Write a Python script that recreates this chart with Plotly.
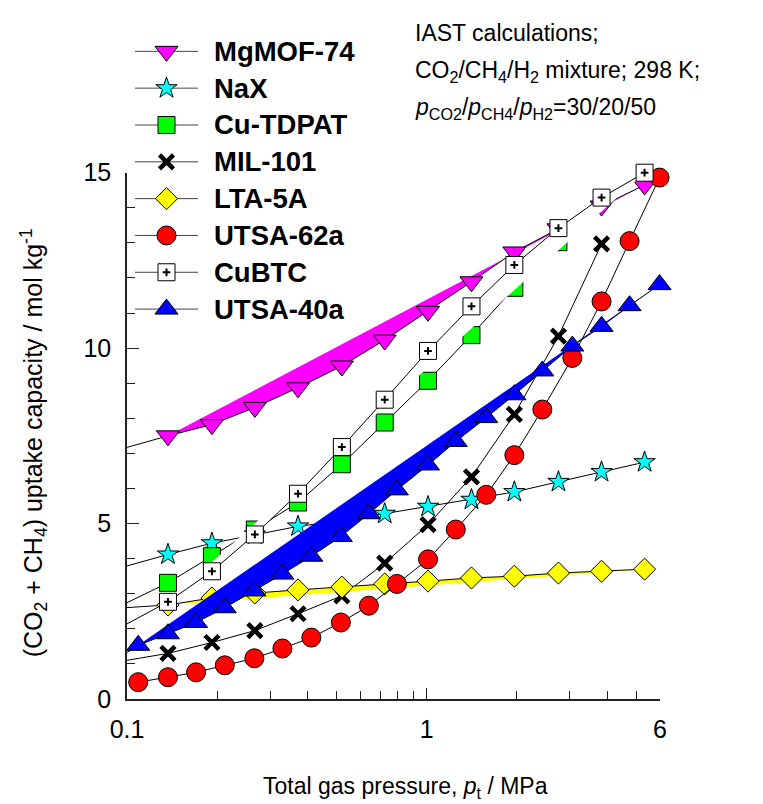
import math
import plotly.graph_objects as go

# ---- data: total pressure (MPa) and CO2+CH4 uptake (mol/kg) ----
mgmof_x = [0.098, 0.137, 0.192, 0.267, 0.372, 0.521, 0.724, 1.01, 1.41, 1.96, 2.75, 3.83, 5.33]
mgmof_y = [7.15, 7.50, 7.82, 8.31, 8.87, 9.49, 10.23, 11.05, 11.89, 12.74, 13.40, 14.05, 14.65]

nax_x = [0.098, 0.137, 0.192, 0.267, 0.372, 0.521, 0.724, 1.01, 1.41, 1.96, 2.75, 3.83, 5.33]
nax_y = [3.77, 4.12, 4.44, 4.69, 4.92, 5.08, 5.28, 5.48, 5.68, 5.90, 6.19, 6.47, 6.75]

cutdpat_x = [0.098, 0.137, 0.192, 0.267, 0.372, 0.521, 0.724, 1.01, 1.41, 1.96, 2.75]
cutdpat_y = [2.71, 3.31, 4.07, 4.83, 5.60, 6.69, 7.88, 9.07, 10.37, 11.72, 13.02]

mil101_x = [0.098, 0.137, 0.192, 0.267, 0.372, 0.521, 0.724, 1.01, 1.41, 1.96, 2.75, 3.83]
mil101_y = [1.09, 1.30, 1.61, 1.95, 2.43, 2.94, 3.87, 4.97, 6.33, 8.11, 10.34, 12.97]

lta5a_x = [0.098, 0.137, 0.192, 0.267, 0.372, 0.521, 0.724, 1.01, 1.41, 1.96, 2.75, 3.83, 5.33]
lta5a_y = [2.60, 2.68, 2.88, 3.02, 3.11, 3.19, 3.28, 3.36, 3.45, 3.50, 3.59, 3.64, 3.70]

utsa62_x = [0.109, 0.137, 0.170, 0.212, 0.266, 0.330, 0.412, 0.517, 0.641, 0.795,
            1.01, 1.25, 1.58, 1.96, 2.43, 3.06, 3.83, 4.75, 5.98]
utsa62_y = [0.48, 0.62, 0.76, 0.96, 1.16, 1.44, 1.75, 2.18, 2.66, 3.28,
            3.98, 4.83, 5.82, 6.95, 8.25, 9.72, 11.33, 13.05, 14.86]

cubtc_x = [0.098, 0.137, 0.192, 0.267, 0.372, 0.521, 0.724, 1.01, 1.41, 1.96, 2.75, 3.83, 5.33]
cubtc_y = [2.10, 2.77, 3.64, 4.69, 5.85, 7.18, 8.53, 9.92, 11.19, 12.37, 13.42, 14.29, 15.00]

utsa40_x = [0.087, 0.109, 0.137, 0.170, 0.212, 0.266, 0.330, 0.412, 0.517, 0.641, 0.795,
            1.01, 1.25, 1.58, 1.96, 2.43, 3.06, 3.83, 4.75, 5.98]
utsa40_y = [1.00, 1.53, 1.86, 2.18, 2.60, 3.08, 3.56, 4.07, 4.63, 5.28, 5.96,
            6.67, 7.34, 8.02, 8.67, 9.35, 10.06, 10.62, 11.21, 11.81]

names = ["MgMOF-74", "NaX", "Cu-TDPAT", "MIL-101", "LTA-5A", "UTSA-62a", "CuBTC", "UTSA-40a"]
xs = [mgmof_x, nax_x, cutdpat_x, mil101_x, lta5a_x, utsa62_x, cubtc_x, utsa40_x]
ys = [mgmof_y, nax_y, cutdpat_y, mil101_y, lta5a_y, utsa62_y, cubtc_y, utsa40_y]

x_ticks = [0.1, 1, 6]
x_ticktext = ["0.1", "1", "6"]
x_minor = [0.2, 0.3, 0.4, 0.5, 0.6, 0.7, 0.8, 0.9, 2, 3, 4, 5]
y_ticks = [0, 5, 10, 15]

# ---- styling ----
FONT = "Liberation Sans, Arial, Helvetica, sans-serif"
OUT = dict(color="black", width=1)
styles = {
    "MgMOF-74": dict(marker=dict(symbol="triangle-down", size=20, color="#FF00FF", line=OUT), fill="#FF00FF"),
    "NaX": dict(marker=dict(symbol="star", size=16, color="#00FFFF", line=OUT), fill=None),
    "Cu-TDPAT": dict(marker=dict(symbol="square", size=17, color="#00FF00", line=OUT), fill=None),
    "MIL-101": dict(marker=dict(symbol="x-thin", size=14, color="black", line=dict(color="black", width=4.5)), fill=None),
    "LTA-5A": dict(marker=dict(symbol="diamond", size=17, color="#FFFF00", line=OUT), fill="#FFFF00"),
    "UTSA-62a": dict(marker=dict(symbol="circle", size=19, color="#FF0000", line=OUT), fill=None),
    "CuBTC": dict(marker=dict(symbol="square", size=17, color="white", line=OUT), fill="white"),
    "UTSA-40a": dict(marker=dict(symbol="triangle-up", size=20, color="#0000FF", line=OUT), fill="#0000FF"),
}
PLUS = dict(symbol="cross-thin", size=5.5, color="black", line=dict(color="black", width=2))

fig = go.Figure()

for name, x, y in zip(names, xs, ys):
    st = styles[name]
    xin = [a for a in x if a >= 0.1]
    yin = [b for a, b in zip(x, y) if a >= 0.1]
    if st["fill"]:
        fig.add_trace(go.Scatter(x=xin, y=yin, mode="lines", fill="toself",
                                 fillcolor=st["fill"], line=dict(width=0),
                                 hoverinfo="skip", showlegend=False))
    fig.add_trace(go.Scatter(x=x, y=y, mode="lines", line=dict(color="black", width=1),
                             hoverinfo="skip", showlegend=False))
    fig.add_trace(go.Scatter(x=xin, y=yin, mode="markers", marker=st["marker"],
                             cliponaxis=False, name=name, showlegend=False))
    if name == "CuBTC":
        fig.add_trace(go.Scatter(x=xin, y=yin, mode="markers", marker=PLUS,
                                 cliponaxis=False, hoverinfo="skip", showlegend=False))

# ---- legend drawn on an auxiliary hidden axis pair (one unit = sample line length) ----
LEG_W = 63.0        # px per x2 unit
LEG_X0 = 135.0      # px where sample lines start
LEG_TOP = 27.0      # px top of the legend block
LEG_ROW = 37.15     # px per row
for i, name in enumerate(names):
    st = styles[name]
    fig.add_trace(go.Scatter(x=[0, 1], y=[i, i], mode="lines", line=dict(color="#444444", width=1),
                             xaxis="x2", yaxis="y2", hoverinfo="skip", showlegend=False))
    fig.add_trace(go.Scatter(x=[0.5], y=[i], mode="markers", marker=st["marker"], cliponaxis=False,
                             xaxis="x2", yaxis="y2", hoverinfo="skip", showlegend=False))
    if name == "CuBTC":
        fig.add_trace(go.Scatter(x=[0.5], y=[i], mode="markers", marker=PLUS, cliponaxis=False,
                                 xaxis="x2", yaxis="y2", hoverinfo="skip", showlegend=False))
    fig.add_annotation(x=1.23, y=i, xref="x2", yref="y2", text="<b>%s</b>" % name,
                       showarrow=False, xanchor="left", yanchor="middle",
                       font=dict(size=27.5, family=FONT, color="black"))

# ---- layout ----
PH = 679.0  # paper height in px (plot top margin region included)

def py(v):
    return (699 - v) / PH

def px(v):
    return (v - 127) / 533.0

fig.update_layout(
    width=763, height=804,
    margin=dict(l=127, r=103, t=20, b=105),
    paper_bgcolor="white", plot_bgcolor="rgba(0,0,0,0)",
    showlegend=False,
    font=dict(family=FONT, color="black"),
    xaxis=dict(type="log", range=[-1, math.log10(6)], showline=True, linecolor="#222222",
               linewidth=1.5, showgrid=False, zeroline=False,
               tickmode="array", tickvals=x_ticks, ticktext=x_ticktext,
               ticks="inside", ticklen=11, tickwidth=1.2, tickcolor="#222222",
               tickfont=dict(size=25), ticklabelstandoff=7,
               minor=dict(tickvals=x_minor, ticks="inside", ticklen=8, tickwidth=1.2,
                          tickcolor="#222222", showgrid=False)),
    yaxis=dict(range=[0, 15], domain=[0, 531 / PH], showline=True, linecolor="#222222",
               linewidth=1.5, showgrid=False, zeroline=False,
               tickmode="array", tickvals=y_ticks,
               ticks="inside", ticklen=12, tickwidth=1.2, tickcolor="#222222",
               tickfont=dict(size=25), ticklabelstandoff=9,
               minor=dict(dtick=1, tick0=0, ticks="inside", ticklen=8, tickwidth=1.2,
                          tickcolor="#222222", showgrid=False)),
    xaxis2=dict(domain=[px(LEG_X0), px(LEG_X0 + 4 * LEG_W)], range=[0, 4], visible=False,
                anchor="y2", fixedrange=True),
    yaxis2=dict(domain=[py(LEG_TOP + 8 * LEG_ROW), py(LEG_TOP)], range=[7.5, -0.5],
                visible=False, anchor="x2", fixedrange=True),
)

ann_font = dict(size=23, family=FONT, color="black")
fig.add_annotation(x=px(413), y=py(27), xref="paper", yref="paper", showarrow=False,
                   xanchor="left", yanchor="middle", text="IAST calculations;", font=ann_font)
fig.add_annotation(x=px(413), y=py(66), xref="paper", yref="paper", showarrow=False,
                   xanchor="left", yanchor="middle",
                   text="CO<sub>2</sub>/CH<sub>4</sub>/H<sub>2</sub> mixture; 298 K;", font=ann_font)
fig.add_annotation(x=px(413), y=py(103), xref="paper", yref="paper", showarrow=False,
                   xanchor="left", yanchor="middle",
                   text="<i>p</i><sub>CO2</sub>/<i>p</i><sub>CH4</sub>/<i>p</i><sub>H2</sub>=30/20/50",
                   font=ann_font)

# axis titles
fig.add_annotation(x=px(405), y=py(788), xref="paper", yref="paper", showarrow=False,
                   xanchor="center", yanchor="middle",
                   text="Total gas pressure, <i>p</i><sub>t</sub> / MPa", font=ann_font)
fig.add_annotation(x=px(34), y=py(441), xref="paper", yref="paper", showarrow=False,
                   xanchor="center", yanchor="middle", textangle=-90,
                   text="(CO<sub>2</sub> + CH<sub>4</sub>) uptake capacity / mol kg<sup>-1</sup>",
                   font=dict(size=25, family=FONT, color="black"))

fig.write_html("out.html")
